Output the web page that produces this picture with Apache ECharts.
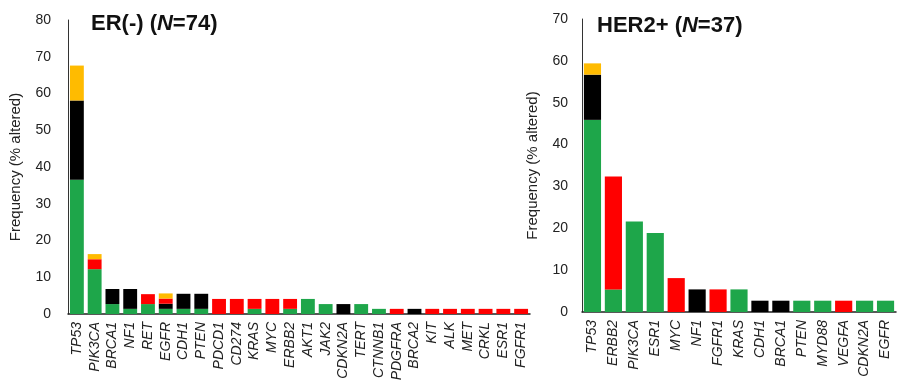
<!DOCTYPE html>
<html>
<head>
<meta charset="utf-8">
<script src="https://cdn.jsdelivr.net/npm/echarts@6/dist/echarts.min.js"></script>
<style>
html,body{margin:0;padding:0;background:#fff;}
#c{width:913px;height:386px;}
</style>
</head>
<body>
<div id="c"></div>
<script>
// ER(-) panel (N=74)
var erGenes = ['TP53','PIK3CA','BRCA1','NF1','RET','EGFR','CDH1','PTEN','PDCD1','CD274','KRAS','MYC','ERBB2','AKT1','JAK2','CDKN2A','TERT','CTNNB1','PDGFRA','BRCA2','KIT','ALK','MET','CRKL','ESR1','FGFR1'];
var erGreen  = [36.5,12.2,2.7,1.4,2.7,1.4,1.4,1.4,0,0,1.4,0,1.4,4.1,2.7,0,2.7,1.4,0,0,0,0,0,0,0,0];
var erBlack  = [21.6,0,4.1,5.4,0,1.4,4.1,4.1,0,0,0,0,0,0,0,2.7,0,0,0,1.4,0,0,0,0,0,0];
var erRed    = [0,2.7,0,0,2.7,1.4,0,0,4.1,4.1,2.7,4.1,2.7,0,0,0,0,0,1.4,0,1.4,1.4,1.4,1.4,1.4,1.4];
var erOrange = [9.5,1.4,0,0,0,1.4,0,0,0,0,0,0,0,0,0,0,0,0,0,0,0,0,0,0,0,0];
var erTicks  = [0,10,20,30,40,50,60,70,80];

// HER2+ panel (N=37)
var herGenes = ['TP53','ERBB2','PIK3CA','ESR1','MYC','NF1','FGFR1','KRAS','CDH1','BRCA1','PTEN','MYD88','VEGFA','CDKN2A','EGFR'];
var herGreen  = [45.9,5.4,21.6,18.9,0,0,0,5.4,0,0,2.7,2.7,0,2.7,2.7];
var herBlack  = [10.8,0,0,0,0,5.4,0,0,2.7,2.7,0,0,0,0,0];
var herRed    = [0,27.0,0,0,8.1,0,5.4,0,0,0,0,0,2.7,0,0];
var herOrange = [2.7,0,0,0,0,0,0,0,0,0,0,0,0,0,0];
var herTicks  = [0,10,20,30,40,50,60,70];

var C_GREEN = '#1ea64a', C_BLACK = '#000000', C_RED = '#ff0000', C_ORANGE = '#ffbb00';
var FONT = 'Liberation Sans, Arial, Helvetica, sans-serif';

function yAxis(idx, ticks, nameGap, margin) {
  return {
    type: 'value', gridIndex: idx,
    min: ticks[0], max: ticks[ticks.length - 1], interval: ticks[1] - ticks[0],
    name: 'Frequency (% altered)', nameLocation: 'middle', nameGap: nameGap,
    nameTextStyle: { fontFamily: FONT, fontSize: 15, color: '#222' },
    axisLine: { show: true, lineStyle: { color: '#333', width: 1 } },
    axisTick: { show: false },
    splitLine: { show: false },
    axisLabel: { fontFamily: FONT, fontSize: 14, color: '#222', margin: margin }
  };
}
function xAxis(idx, cats) {
  return {
    type: 'category', gridIndex: idx, data: cats,
    axisLine: { show: true, lineStyle: { color: '#222', width: 1.5 } },
    axisTick: { show: false },
    axisLabel: { rotate: 90, interval: 0, fontFamily: FONT, fontStyle: 'italic', fontSize: 14, color: '#222', margin: 8 }
  };
}
function ser(idx, data, color, gap) {
  return {
    type: 'bar', xAxisIndex: idx, yAxisIndex: idx, stack: 's' + idx,
    data: data, barCategoryGap: gap, itemStyle: { color: color }, silent: true
  };
}

var chart = echarts.init(document.getElementById('c'));
chart.setOption({
  animation: false,
  title: [
    { left: 86, top: 8, text: '{a|ER(-) (}{n|N}{a|=74)}',
      textStyle: { rich: {
        a: { fontFamily: FONT, fontSize: 22, fontWeight: 'bold', color: '#111' },
        n: { fontFamily: FONT, fontSize: 22, fontWeight: 'bold', fontStyle: 'italic', color: '#111' } } } },
    { left: 592, top: 10, text: '{a|HER2+ (}{n|N}{a|=37)}',
      textStyle: { rich: {
        a: { fontFamily: FONT, fontSize: 22, fontWeight: 'bold', color: '#111' },
        n: { fontFamily: FONT, fontSize: 22, fontWeight: 'bold', fontStyle: 'italic', color: '#111' } } } }
  ],
  grid: [
    { left: 68, right: 383, top: 20, bottom: 72 },
    { left: 582, right: 17, top: 19, bottom: 74 }
  ],
  xAxis: [xAxis(0, erGenes), xAxis(1, herGenes)],
  yAxis: [yAxis(0, erTicks, 45, 17), yAxis(1, herTicks, 42, 14)],
  series: [
    ser(0, erGreen, C_GREEN, '22%'), ser(0, erBlack, C_BLACK, '22%'), ser(0, erRed, C_RED, '22%'), ser(0, erOrange, C_ORANGE, '22%'),
    ser(1, herGreen, C_GREEN, '18%'), ser(1, herBlack, C_BLACK, '18%'), ser(1, herRed, C_RED, '18%'), ser(1, herOrange, C_ORANGE, '18%')
  ]
});
</script>
</body>
</html>
